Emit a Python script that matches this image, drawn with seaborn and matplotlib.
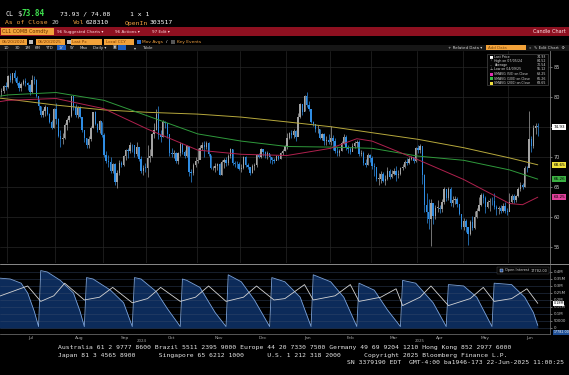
import numpy as np
import pandas as pd
import matplotlib
matplotlib.use("Agg")
import matplotlib.pyplot as plt
from matplotlib.patches import Rectangle
from matplotlib.lines import Line2D
import seaborn as sns

# ---------------- data ----------------
holidays = ["2024-07-04", "2024-09-02", "2024-11-28", "2024-12-25", "2025-01-01",
            "2025-01-09", "2025-01-20", "2025-02-17", "2025-04-18", "2025-05-26", "2025-06-19"]

first_open = 81.90
# daily (high, low, close), one list per month
jun_2024 = [(82.4,81.0,82.17),(82.1,80.5,80.73),(81.8,80.3,81.63),(81.9,80.6,80.83),(81.4,80.2,80.90),(82.0,80.7,81.74),(82.4,81.2,81.54)]
jul_2024 = [(83.6,81.5,83.38),(84.0,82.5,82.81),(84.0,82.3,83.88),(84.52,82.7,83.16),(83.4,82.0,82.33),(82.6,81.0,81.41),(82.5,80.9,82.10),(83.0,81.9,82.62),(83.2,81.8,82.21),(82.4,81.1,81.91),(82.1,80.3,80.76),(83.6,80.7,82.85),(83.5,82.2,82.82),(82.9,79.9,80.13),(79.6,77.8,78.40),(78.5,76.6,76.96),(78.0,76.6,77.59),(78.6,76.8,78.28),(78.3,76.9,77.16),(77.3,75.6,75.81),(76.2,74.6,74.73),(78.2,74.8,77.91)]
aug_2024 = [(78.9,75.4,76.31),(76.5,73.3,73.52),(74.4,71.7,72.94),(74.0,72.2,73.20),(75.6,72.9,75.23),(76.4,74.5,76.19),(77.0,75.8,76.84),(80.2,76.6,80.06),(80.1,77.8,78.35),(78.8,76.7,76.98),(78.5,76.5,78.16),(78.4,76.4,76.65),(76.7,74.1,74.37),(74.4,72.5,73.17),(73.2,71.5,71.93),(73.4,71.5,73.01),(75.2,72.7,74.83),(77.5,74.8,77.42),(77.6,75.3,75.53),(75.6,74.2,74.52),(76.1,74.0,75.91),(75.8,73.3,73.55)]
sep_2024 = [(73.9,69.9,70.34),(70.9,68.9,69.20),(70.3,68.2,69.15),(69.9,67.2,67.67),(68.9,67.3,68.71),(68.9,65.3,65.75),(67.7,64.8,67.31),(69.4,67.0,68.97),(69.3,68.2,68.65),(70.3,68.4,70.09),(71.3,69.5,71.19),(71.5,69.8,70.91),(72.4,70.6,71.95),(72.1,70.8,71.92),(72.0,70.0,70.37),(72.4,70.1,71.56),(71.4,69.3,69.69),(70.2,67.3,67.67),(68.6,66.9,68.18),(68.9,67.4,68.17)]
oct_2024 = [(71.9,66.6,69.83),(71.3,69.1,70.10),(74.0,70.0,73.71),(75.6,73.1,74.38),(77.9,74.4,77.14),(78.5,73.0,73.57),(74.4,72.5,73.24),(76.2,73.3,75.85),(76.0,74.8,75.56),(75.6,73.1,73.83),(73.7,70.1,70.58),(71.4,69.9,70.39),(71.1,69.7,70.67),(70.8,68.9,69.22),(70.8,68.8,70.56),(72.5,70.2,72.09),(72.3,70.5,70.77),(71.1,69.7,70.19),(72.0,70.0,71.78),(69.1,66.8,67.38),(68.0,65.7,67.21),(69.0,67.0,68.61),(70.0,68.3,69.26)]
nov_2024 = [(71.5,69.0,69.49),(71.9,69.9,71.47),(72.4,71.2,71.99),(72.6,69.9,71.69),(72.6,71.3,72.36),(72.4,70.1,70.38),(70.3,67.9,68.04),(68.5,67.7,68.12),(69.0,67.4,68.43),(69.0,67.7,68.70),(68.9,66.9,67.02),(69.5,66.9,69.16),(69.8,68.1,69.39),(69.9,68.5,68.87),(70.4,68.6,70.10),(71.5,69.7,71.24),(71.3,68.6,68.94),(69.3,68.3,68.77),(69.3,68.1,68.72),(69.1,67.8,68.00)]
dec_2024 = [(68.8,67.5,68.10),(70.2,67.9,69.94),(70.1,68.2,68.54),(69.0,67.9,68.30),(68.3,66.9,67.20),(68.8,67.3,68.37),(69.0,67.8,68.59),(70.5,68.3,70.29),(70.6,69.7,70.02),(71.4,69.8,71.29),(71.3,70.2,70.71),(70.9,69.8,70.08),(70.9,69.6,70.58),(70.5,69.0,69.91),(70.0,68.8,69.46),(69.8,68.9,69.24),(70.3,69.4,70.10),(70.2,69.4,69.62),(70.8,69.6,70.60),(71.3,70.3,70.99),(72.0,70.9,71.72)]
jan_2025 = [(73.9,71.3,73.13),(74.2,72.9,73.96),(74.4,73.1,73.56),(74.7,73.1,74.25),(74.5,72.7,73.32),(77.3,73.8,76.57),(79.0,76.4,78.82),(78.8,76.9,77.50),(80.3,77.6,80.04),(80.8,78.3,78.68),(79.3,77.7,77.88),(78.0,75.6,75.83),(76.0,75.2,75.44),(75.5,74.2,74.62),(75.3,73.9,74.66),(74.6,72.9,73.17),(74.0,72.8,73.77),(73.9,72.0,72.62),(73.4,72.0,72.73),(73.8,72.2,72.53)]
feb_2025 = [(75.2,71.9,73.16),(73.6,71.1,72.70),(73.2,70.6,71.03),(71.7,70.2,70.61),(71.3,70.2,71.00),(72.6,70.9,72.32),(73.8,72.1,73.32),(73.7,71.1,71.37),(72.0,70.7,71.29),(71.7,70.4,70.74),(72.3,70.9,71.85),(72.6,71.4,72.25),(72.8,71.7,72.48),(72.8,70.2,70.40),(71.1,70.1,70.70),(70.9,68.6,68.93),(69.6,68.3,68.62),(70.6,68.6,70.35),(70.5,69.1,69.76)]
mar_2025 = [(70.2,67.9,68.37),(68.9,66.8,68.26),(68.3,66.0,66.31),(67.2,65.2,66.36),(67.6,65.6,67.04),(67.4,65.7,66.03),(66.9,65.2,66.25),(68.2,66.1,67.68),(67.9,66.3,66.55),(67.7,66.4,67.18),(68.1,66.9,67.58),(68.4,66.0,66.90),(67.8,66.4,67.16),(68.3,66.9,68.07),(68.7,67.7,68.28),(69.4,68.1,69.11),(69.7,68.6,69.00),(70.0,68.8,69.65),(70.1,69.4,69.92),(70.0,69.0,69.36),(71.7,69.1,71.48)]
apr_2025 = [(71.9,70.6,71.20),(72.1,70.6,71.71),(69.6,65.4,66.95),(67.1,60.7,61.99),(63.9,58.95,60.70),(62.9,57.9,59.58),(62.9,55.12,62.35),(62.3,58.8,60.07),(61.9,59.6,61.50),(62.7,60.7,61.53),(62.0,60.6,61.33),(62.9,60.8,62.47),(64.9,62.1,64.68),(64.6,62.6,63.08),(64.9,62.7,64.67),(64.9,61.8,62.27),(63.5,61.6,62.79),(63.4,62.1,63.02),(63.3,61.6,62.05),(62.1,60.2,60.42),(60.5,57.9,58.21)]
may_2025 = [(59.8,57.8,59.24),(59.6,57.5,58.29),(57.9,55.3,57.13),(59.5,56.9,59.09),(60.1,57.8,58.07),(61.0,58.0,59.91),(61.4,59.8,61.02),(63.3,61.0,61.95),(63.9,61.7,63.67),(64.0,62.3,63.15),(63.4,60.6,61.62),(62.7,61.5,62.49),(63.1,61.0,62.69),(63.3,62.0,62.56),(63.9,61.3,61.57),(61.9,60.3,61.20),(61.8,60.5,61.53),(62.0,60.6,60.89),(62.2,60.8,61.84),(62.5,60.6,60.94),(61.4,60.3,60.79)]
jun_2025 = [(63.9,61.1,62.52),(63.8,62.2,63.41),(63.8,62.3,62.85),(63.6,62.4,63.37),(64.9,63.2,64.58),(65.7,64.3,65.29),(65.6,64.6,64.98),(68.4,64.9,68.15),(68.5,67.4,68.04),(77.62,68.9,72.98),(73.4,70.8,71.77),(75.3,71.5,74.84),(75.7,73.8,75.14),(75.7,73.5,74.93)]
months = [jun_2024, jul_2024, aug_2024, sep_2024, oct_2024, nov_2024, dec_2024,
          jan_2025, feb_2025, mar_2025, apr_2025, may_2025, jun_2025]

# moving averages
ma_dates = ["2024-06-20","2024-07-01","2024-08-01","2024-09-03","2024-10-01","2024-11-01","2024-12-02",
            "2025-01-02","2025-02-03","2025-03-03","2025-04-01","2025-05-01","2025-06-02","2025-06-20"]
sma200 = [79.9,79.6,78.6,77.8,77.4,77.1,76.6,75.8,75.0,74.0,72.9,71.5,69.8,68.65]
sma100 = [79.9,80.3,80.7,79.4,76.8,73.8,72.6,71.7,71.6,71.4,70.1,69.4,67.8,66.26]
sma50_dates = ["2024-06-20","2024-07-01","2024-08-01","2024-09-03","2024-10-01","2024-11-01","2024-12-02",
               "2025-01-02","2025-02-03","2025-02-20","2025-03-03","2025-04-01","2025-05-01","2025-06-02",
               "2025-06-10","2025-06-20"]
sma50 = [79.0,79.4,79.7,78.0,74.6,71.1,70.4,70.2,71.4,73.0,72.6,69.5,66.2,62.2,62.0,63.25]

# open interest (millions)
oi_dates = ["2024-06-20","2024-07-02","2024-07-10","2024-07-15","2024-07-18","2024-07-22","2024-07-23","2024-07-26",
            "2024-08-05","2024-08-13","2024-08-16","2024-08-20","2024-08-21","2024-08-26","2024-09-06","2024-09-16",
            "2024-09-20","2024-09-23","2024-09-26","2024-10-07","2024-10-14","2024-10-22","2024-10-23","2024-10-25",
            "2024-11-04","2024-11-13","2024-11-20","2024-11-21","2024-12-02","2024-12-10","2024-12-19","2024-12-20",
            "2024-12-31","2025-01-13","2025-01-21","2025-01-22","2025-02-03","2025-02-11","2025-02-20","2025-02-21",
            "2025-03-04","2025-03-12","2025-03-20","2025-03-21","2025-03-31","2025-04-10","2025-04-21","2025-04-22",
            "2025-05-01","2025-05-09","2025-05-20","2025-05-21","2025-06-03","2025-06-11","2025-06-17","2025-06-20"]
oi_front = [0.36,0.35,0.32,0.25,0.12,0.01,0.41,0.40,0.34,0.25,0.12,0.01,0.36,0.35,0.27,0.18,0.01,0.36,0.35,0.26,
            0.14,0.01,0.35,0.34,0.29,0.11,0.01,0.38,0.33,0.20,0.01,0.36,0.33,0.22,0.01,0.38,0.33,0.22,0.01,0.32,
            0.27,0.13,0.01,0.34,0.32,0.18,0.01,0.31,0.30,0.22,0.01,0.32,0.31,0.22,0.11,0.018]
oi2_dates = ["2024-06-20","2024-07-15","2024-07-23","2024-07-31","2024-08-07","2024-08-20","2024-08-29","2024-09-09",
             "2024-09-20","2024-10-01","2024-10-09","2024-10-22","2024-10-31","2024-11-08","2024-11-20","2024-12-03",
             "2024-12-11","2024-12-23","2024-12-31","2025-01-15","2025-01-22","2025-02-05","2025-02-14","2025-02-21",
             "2025-03-07","2025-03-18","2025-03-21","2025-04-02","2025-04-09","2025-04-22","2025-05-06","2025-05-14",
             "2025-05-21","2025-06-03","2025-06-12","2025-06-20"]
oi_second = [0.21,0.30,0.19,0.23,0.32,0.20,0.22,0.29,0.18,0.21,0.29,0.19,0.22,0.30,0.19,0.22,0.30,0.20,0.21,0.31,
             0.20,0.23,0.31,0.19,0.22,0.28,0.16,0.22,0.30,0.16,0.21,0.29,0.19,0.21,0.28,0.176]

month_names = ["Jul","Aug","Sep","Oct","Nov","Dec","Jan","Feb","Mar","Apr","May","Jun"]
price_ticks = [55, 60, 65, 70, 75, 80, 85]
price_tick_labels = ["55", "60", "65", "70", "", "80", "85"]   # 75 sits under the last-price box
oi_ticks = [0, 0.05, 0.10, 0.15, 0.20, 0.25, 0.30, 0.35, 0.40]
oi_tick_labels = ["0", "50000", "0.1M", "0.15M", "0.2M", "0.25M", "0.3M", "0.35M", "0.4M"]
legend_rows = [("Last Price", "74.93"), ("High on 07/05/24", "84.52"), ("Average", "70.54"),
               ("Low on 04/09/25", "55.12"), ("SMAVG (50) on Close", "63.25"),
               ("SMAVG (100) on Close", "66.26"), ("SMAVG (200) on Close", "68.65")]
last_price = 74.93

# ---------------- style ----------------
sns.set_theme(style="dark")
plt.rcParams["font.family"] = ["DejaVu Sans"]
W, H = 569, 375
fig = plt.figure(figsize=(W / 100, H / 100), dpi=100, facecolor="black")

BLUE = "#2f8de4"
GREY = "#a3a3a3"
C50, C100, C200 = "#b0214e", "#2f9a3c", "#b6a83c"
ORANGE = "#f2a23a"
MONO = "DejaVu Sans Mono"


def T(x, y, s, size=3.5, color="#e0e0e0", ha="left", family="DejaVu Sans", weight="normal"):
    fig.text(x / W, 1 - y / H, s, fontsize=size, color=color, ha=ha, va="center",
             family=family, weight=weight, zorder=20)


def R(x, y, w, h, fc, ec="none", lw=0.0, z=1):
    fig.add_artist(Rectangle((x / W, 1 - (y + h) / H), w / W, h / H, transform=fig.transFigure,
                             facecolor=fc, edgecolor=ec, linewidth=lw, zorder=z))


# calendar / data arrays
cal = pd.bdate_range("2024-06-20", "2025-07-03")
cal = cal[~cal.isin(pd.to_datetime(holidays))]
rows = [r for m in months for r in m]
n = min(len(rows), int((cal <= pd.Timestamp("2025-06-20")).sum()))
rows = rows[:n]
hi = np.array([r[0] for r in rows])
lo = np.array([r[1] for r in rows])
cl = np.array([r[2] for r in rows])
op = np.r_[first_open, cl[:-1]]
xi = np.arange(n)
cal_ns = cal.values.astype("int64")


def to_idx(dl):
    return np.interp(pd.to_datetime(dl).values.astype("int64"), cal_ns, np.arange(len(cal)))


month_starts = [i for i in range(1, len(cal)) if cal[i].month != cal[i - 1].month]
bounds = month_starts + [len(cal)]
centers = [(bounds[k] + bounds[k + 1] - 1) / 2 for k in range(len(bounds) - 1)]

# pixel -> index mapping for the visible window
XL = ((0 - 56) / 2.18 + 29, (550 - 56) / 2.18 + 29)

# ---------------- main price panel ----------------
ax = fig.add_axes([0, 1 - 263 / H, 550 / W, (263 - 51) / H])
ax.set_facecolor("black")
for p in price_ticks:
    ax.axhline(p, color="#262626", lw=0.5, zorder=0)
for s in month_starts:
    ax.axvline(s - 0.5, color="#262626", lw=0.5, zorder=0)

up = cl >= op
cols = np.where(up, GREY, BLUE)
ax.vlines(xi, lo, hi, colors=cols, linewidth=0.5, zorder=2)
body = np.maximum(np.abs(cl - op), 0.08)
ax.bar(xi, body, bottom=np.minimum(op, cl), width=0.62, color=cols, linewidth=0, zorder=3)

ma_df = pd.concat([
    pd.DataFrame({"idx": to_idx(ma_dates), "value": sma200, "series": "SMAVG (200)"}),
    pd.DataFrame({"idx": to_idx(ma_dates), "value": sma100, "series": "SMAVG (100)"}),
    pd.DataFrame({"idx": to_idx(sma50_dates), "value": sma50, "series": "SMAVG (50)"}),
])
sns.lineplot(data=ma_df, x="idx", y="value", hue="series", estimator=None, legend=False,
             palette={"SMAVG (200)": C200, "SMAVG (100)": C100, "SMAVG (50)": C50},
             linewidth=0.7, ax=ax, zorder=4)

ax.set_xlim(*XL)
ax.set_ylim(52.28, 87.62)
ax.set_xlabel("")
ax.set_ylabel("")
ax.set_xticks([])
ax.yaxis.tick_right()
ax.set_yticks(price_ticks)
ax.set_yticklabels(price_tick_labels)
ax.tick_params(axis="y", labelsize=3.6, colors="#c8c8c8", length=1.5, width=0.4, pad=1)
for side in ["top", "left", "bottom"]:
    ax.spines[side].set_visible(False)
ax.spines["right"].set_color("#7a7a7a")
ax.spines["right"].set_linewidth(0.6)

yt = ax.get_yaxis_transform()
for val, txt, fc, tc in [(last_price, "74.93", "white", "black"), (68.65, "68.65", "#efe23a", "black"),
                         (66.26, "66.26", "#3cb043", "black"), (63.25, "63.25", "#e0409a", "black")]:
    ax.text(1.006, val, txt, transform=yt, fontsize=3.0, color=tc, ha="left", va="center",
            bbox=dict(boxstyle="square,pad=0.22", fc=fc, ec="none"), clip_on=False, zorder=10)

# legend box
R(487, 54, 61, 31, "#050505", ec="#5a5a5a", lw=0.4, z=5)
ly = [57.5, 61.2, 65.0, 68.7, 74.3, 78.7, 83.0]
marks = ["white", "hi", "avg", "lo", "#e030b0", "#30c040", "#f0e040"]
for (lab, val), yy, mk in zip(legend_rows, ly, marks):
    if mk == "hi":
        T(491, yy, "⊤", 2.8, "#bbbbbb", ha="center")
    elif mk == "lo":
        T(491, yy, "⊥", 2.8, "#bbbbbb", ha="center")
    elif mk == "avg":
        T(491, yy, "–", 2.8, "#bbbbbb", ha="center")
    else:
        R(489.5, yy - 1.5, 3, 3, mk, z=6)
    T(494.5, yy, lab, 2.35, "#d6d6d6")
    T(546.5, yy, val, 2.35, "#d6d6d6", ha="right")

# ---------------- open interest panel ----------------
ax2 = fig.add_axes([0, 1 - 334 / H, 550 / W, (334 - 265) / H])
ax2.set_facecolor("black")
oi_x = to_idx(oi_dates)
ax2.fill_between(oi_x, 0, oi_front, color="#0c2b5a", lw=0, zorder=1)
sns.lineplot(x=oi_x, y=oi_front, color="#7aa2da", linewidth=0.6, estimator=None, ax=ax2, zorder=3)
sns.lineplot(x=to_idx(oi2_dates), y=oi_second, color="#d4d4d4", linewidth=0.6, estimator=None, ax=ax2, zorder=4)
for t in oi_ticks:
    ax2.axhline(t, color="#3a4d6e", lw=0.4, alpha=0.7, zorder=2)
ax2.set_xlim(*XL)
ax2.set_ylim(-0.043, 0.45)
ax2.set_xlabel("")
ax2.set_ylabel("")
ax2.yaxis.tick_right()
ax2.set_yticks(oi_ticks)
ax2.set_yticklabels(oi_tick_labels)
ax2.tick_params(axis="y", labelsize=2.8, colors="#c8c8c8", length=1.5, width=0.4, pad=1)
ax2.set_xticks(centers[:len(month_names)])
ax2.set_xticklabels(month_names)
ax2.tick_params(axis="x", labelsize=3.2, colors="#a8a8a8", length=0, pad=1.2)
for side in ["top", "left"]:
    ax2.spines[side].set_visible(False)
for side in ["right", "bottom"]:
    ax2.spines[side].set_color("#7a7a7a")
    ax2.spines[side].set_linewidth(0.5)
yt2 = ax2.get_yaxis_transform()
ax2.text(1.006, oi_second[-1], "0.18M", transform=yt2, fontsize=2.4, color="black", ha="left", va="center",
         bbox=dict(boxstyle="square,pad=0.15", fc="white", ec="none"), clip_on=False, zorder=10)
ax2.text(1.006, -0.031, "17782.00", transform=yt2, fontsize=2.3, color="white", ha="left", va="center",
         bbox=dict(boxstyle="square,pad=0.15", fc="#1f4f95", ec="none"), clip_on=False, zorder=10)

R(497, 267, 52, 7, "#050505", ec="#4a4a4a", lw=0.3, z=5)
R(500, 269, 3, 3, "#1f4f9f", ec="white", lw=0.3, z=6)
T(505, 270.5, "Open Interest", 2.5, "#d0d0d0")
T(547, 270.5, "17782.00", 2.5, "#d0d0d0", ha="right")

T(142, 341, "2024", 2.9, "#a0a0a0", ha="center")
T(420, 341, "2025", 2.9, "#a0a0a0", ha="center")

fig.add_artist(Line2D([0, 1], [1 - 263.6 / H] * 2, transform=fig.transFigure, color="#8a8a8a", lw=0.7))

# ---------------- header ----------------
T(5, 14, "CL", 4.8, "white", family=MONO)
T(17, 14, "$", 5.2, "#cfcfcf", family=MONO)
T(21.5, 14, "73.84", 5.6, "#3ee04e", family=MONO, weight="bold")
T(60, 14, "73.93 / 74.08", 4.6, "white", family=MONO)
T(130, 14, "1 x 1", 4.6, "white", family=MONO)
T(5, 23, "As of Close", 4.6, "#f0a040", family=MONO)
T(52, 23, "20", 4.6, "#c8c8c8", family=MONO)
T(73, 23, "Vol", 4.6, "#f0a040", family=MONO)
T(86, 23, "628310", 4.6, "white", family=MONO)
T(125, 23, "OpenIn", 4.6, "#f0a040", family=MONO)
T(150, 23, "303517", 4.6, "white", family=MONO)

R(0, 27.3, W, 8.6, "#8e1020")
R(0.5, 27.8, 53, 7.6, ORANGE, z=2)
T(2, 31.6, "CL1 COMB Comdty", 3.5, "#6a3000")
T(57, 31.6, "96 Suggested Charts ▾", 3.0, "#ffd6dc")
T(115, 31.6, "96 Actions ▾", 3.0, "#ffd6dc")
T(152, 31.6, "97 Edit ▾", 3.0, "#ffd6dc")
T(566, 31.6, "Candle Chart", 3.6, "#ffe6ea", ha="right")

for bx, bw, lab in [(0, 27, "06/20/2024"), (36, 29, "06/20/2025"), (71, 31, "Last Px"), (104, 30, "Local CCY")]:
    R(bx, 39, bw, 5.5, ORANGE)
    T(bx + 1.5, 41.8, lab, 3.0, "#7a3a00")
R(28.5, 40, 4, 4, "#bdbdbd")
R(66.5, 40, 4, 4, "#bdbdbd")
R(137, 40, 3.5, 3.5, "#2a6fd0")
T(142, 41.8, "Mov Avgs", 3.2, "#f0a040")
T(166, 41.8, "/", 3.2, "white")
R(171, 40, 3.5, 3.5, "#555555")
T(177, 41.8, "Key Events", 3.2, "#f0a040")

R(0, 45, W, 5.5, "#161616")
R(57, 45.5, 9, 4.6, "#1f5fc0", z=2)
R(118, 45.5, 8, 4.6, "#2060c0", z=2)
for xx, lab in [(4, "1D"), (15, "3D"), (25, "1M"), (35, "6M"), (45, "YTD"), (59, "1Y"), (70, "5Y"),
                (80, "Max"), (93, "Daily ▾"), (113, "▣"), (134, "▾"), (142, "Table")]:
    T(xx, 47.8, lab, 2.9, "#d6d6d6")
T(448, 47.8, "+ Related Data ▾", 2.9, "#d6d6d6")
R(486, 45.3, 40, 5, ORANGE, z=2)
T(488, 47.8, "Add Data", 2.9, "#7a4a10")
T(529, 47.8, "«  ✎ Edit Chart  ⚙", 2.9, "#d6d6d6")

# ---------------- footer ----------------
T(58, 347.5, "Australia 61 2 9777 8600 Brazil 5511 2395 9000 Europe 44 20 7330 7500 Germany 49 69 9204 1210 Hong Kong 852 2977 6000",
  4.6, "#e6e6e6", family=MONO)
T(58, 355, "Japan 81 3 4565 8900      Singapore 65 6212 1000      U.S. 1 212 318 2000      Copyright 2025 Bloomberg Finance L.P.",
  4.6, "#e6e6e6", family=MONO)
T(564, 362, "SN 3379190 EDT  GMT-4:00 ba1946-173 22-Jun-2025 11:00:25", 4.6, "#e6e6e6", ha="right", family=MONO)

fig.savefig("out.png", dpi=100, facecolor="black")
